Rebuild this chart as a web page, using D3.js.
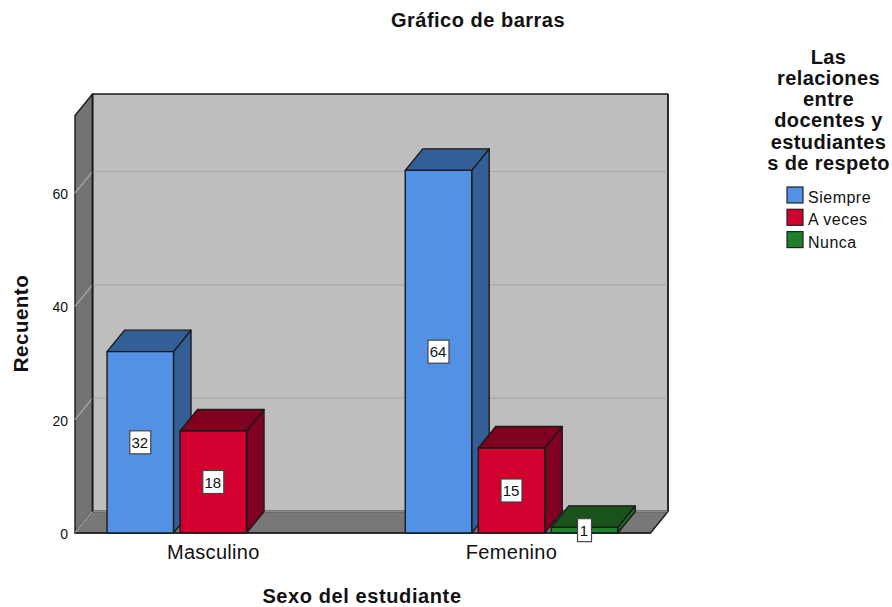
<!DOCTYPE html>
<html><head><meta charset="utf-8">
<script src="https://cdn.jsdelivr.net/npm/d3@7"></script>
<style>html,body{margin:0;background:#fff}svg{display:block}text{font-family:"Liberation Sans",Arial,sans-serif;fill:#111}</style>
</head><body><svg id="c" width="892" height="607"></svg>
<script>
const categories = ["Masculino", "Femenino"];
const seriesNames = ["Siempre", "A veces", "Nunca"];
const siempre = [32, 64];
const aVeces = [18, 15];
const nunca = [null, 1];
const yTicks = [0, 20, 40, 60];
const legendTitle = ["Las", "relaciones", "entre", "docentes y", "estudiantes", "s de respeto"];
const frontColors = ["#5291E3", "#D3002F", "#1F7F2A"];
const topColors = ["#335F96", "#7F001F", "#1A521B"];
const sideColors = ["#335F96", "#7F001F", "#1F6A24"];

const seriesValues = [siempre, aVeces, nunca];
const svg = d3.select("#c");
const dx = 17.5, dy = -21.5, left = 75, right = 650.5, base = 533, top_ = 115.5;
const y = d3.scaleLinear().domain([0, 60]).range([base, base - 340]);
const x0 = d3.scaleBand().domain(categories).range([64.2, 660.6]);
const x1 = d3.scaleBand().domain(seriesNames).range([0, 212.5]).paddingInner(0.09).paddingOuter(0);
const off = (x0.bandwidth() - 212.5) / 2;
const ink = "#1a1a1a";

// walls
const poly = (pts, fill, sw = 1.4, stroke = ink) => svg.append("polygon")
  .attr("points", pts.map(p => p.join(",")).join(" "))
  .attr("fill", fill).attr("stroke", stroke).attr("stroke-width", sw).attr("stroke-linejoin", "round");
poly([[left+dx,top_+dy],[right+dx,top_+dy],[right+dx,base+dy],[left+dx,base+dy]], "#BEBEBE");
poly([[left,top_],[left+dx,top_+dy],[left+dx,base+dy],[left,base]], "#737373");
poly([[left,base],[left+dx,base+dy],[right+dx,base+dy],[right,base]], "#787878", 1.4);
svg.append("line").attr("x1",left+dx).attr("x2",right+dx).attr("y1",base+dy).attr("y2",base+dy).attr("stroke","#8a8a8a").attr("stroke-width",1.4);

// gridlines
yTicks.forEach(t => {
  svg.append("path").attr("fill","none").attr("stroke", "#A9A9A9").attr("stroke-width",1.2)
    .attr("d", `M${left},${y(t)}L${left+dx},${y(t)+dy}` + (t ? `L${right+dx},${y(t)+dy}` : ""));
});
svg.append("line").attr("x1",left+dx).attr("x2",left+dx).attr("y1",top_+dy).attr("y2",base+dy).attr("stroke",ink).attr("stroke-width",1.6);
svg.append("line").attr("x1",right+dx).attr("x2",right+dx).attr("y1",top_+dy).attr("y2",base+dy).attr("stroke",ink).attr("stroke-width",1.4);
svg.append("line").attr("x1",left).attr("x2",right).attr("y1",base).attr("y2",base).attr("stroke",ink).attr("stroke-width",1.2);

// bars
categories.forEach((c, ci) => {
  seriesNames.forEach((s, si) => {
    const v = seriesValues[si][ci];
    if (v === null) return;
    const xa = x0(c) + off + x1(s), xb = xa + x1.bandwidth(), yt = y(v);
    poly([[xb,yt],[xb+dx,yt+dy],[xb+dx,base+dy],[xb,base]], sideColors[si]);
    poly([[xa,yt],[xa+dx,yt+dy],[xb+dx,yt+dy],[xb,yt]], topColors[si]);
    poly([[xa,yt],[xb,yt],[xb,base],[xa,base]], frontColors[si]);
  });
});
// value labels
categories.forEach((c, ci) => {
  seriesNames.forEach((s, si) => {
    const v = seriesValues[si][ci];
    if (v === null) return;
    const cx = x0(c) + off + x1(s) + x1.bandwidth() / 2, cy = (y(v) + base) / 2;
    const w = v < 10 ? 14 : 21, h = 23;
    svg.append("rect").attr("x",cx-w/2).attr("y",cy-h/2).attr("width",w).attr("height",h)
      .attr("fill","#fff").attr("stroke","#444").attr("stroke-width",1.2);
    svg.append("text").attr("x",cx-0.5).attr("y",cy+5.5).attr("text-anchor","middle").attr("font-size",15).text(v);
  });
});

// axes
const yAxis = svg.append("g").attr("transform",`translate(${left-7},1)`)
  .call(d3.axisLeft(y).tickValues(yTicks).tickSize(0).tickPadding(0));
yAxis.select(".domain").remove();
yAxis.selectAll("text").attr("font-size",14).style("font-family",'"Liberation Sans",Arial,sans-serif').attr("fill","#333");
const xAxis = svg.append("g").attr("transform",`translate(0,${base})`)
  .call(d3.axisBottom(x0).tickSize(0).tickPadding(12));
xAxis.select(".domain").remove();
xAxis.selectAll("text").attr("font-size",20).attr("letter-spacing",0.3).style("font-family",'"Liberation Sans",Arial,sans-serif').attr("fill","#444");

// titles
svg.append("text").attr("x",478).attr("y",27).attr("text-anchor","middle").attr("font-weight","bold").attr("font-size",20).attr("letter-spacing",0.5).text("Gráfico de barras");
svg.append("text").attr("x",362).attr("y",603).attr("text-anchor","middle").attr("font-weight","bold").attr("font-size",20).attr("letter-spacing",0.6).text("Sexo del estudiante");
svg.append("text").attr("transform","translate(27.5,323.5) rotate(-90)").attr("text-anchor","middle").attr("font-weight","bold").attr("font-size",20.5).attr("letter-spacing",0.5).text("Recuento");

// legend
legendTitle.forEach((t, i) => svg.append("text").attr("x",828.5).attr("y",63.5+i*21.3)
  .attr("text-anchor","middle").attr("font-weight","bold").attr("font-size",20).attr("letter-spacing",0.4).text(t));
seriesNames.forEach((s, i) => {
  const ly = 187 + i * 22.3;
  svg.append("rect").attr("x",787).attr("y",ly).attr("width",16).attr("height",16)
    .attr("fill",frontColors[i]).attr("stroke","#222").attr("stroke-width",1.2);
  svg.append("text").attr("x",808).attr("y",ly+16).attr("font-size",16).attr("letter-spacing",0.5).attr("fill","#444").text(s);
});
</script></body></html>
